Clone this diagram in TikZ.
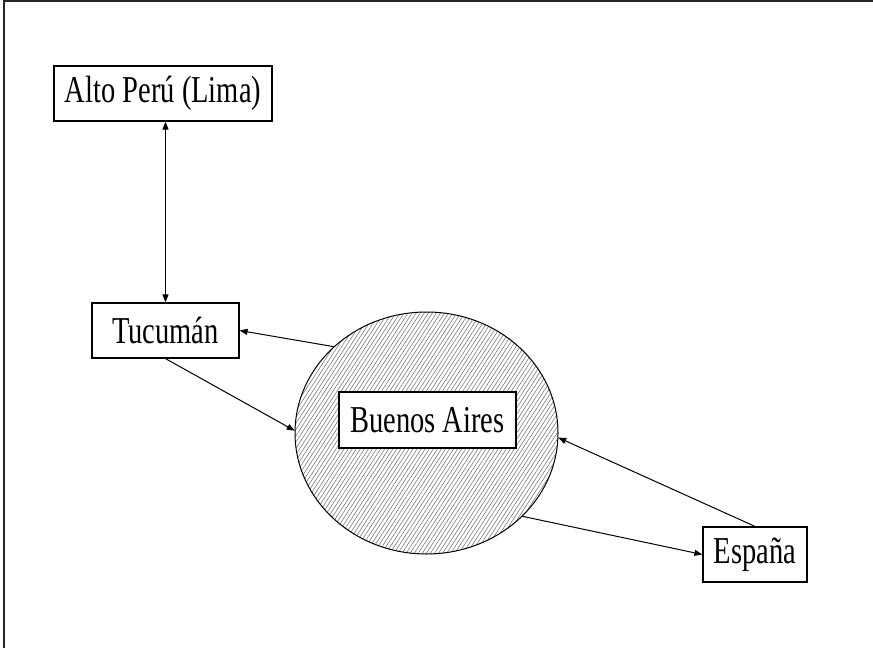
\documentclass[tikz,border=0pt]{standalone}
\usepackage{fontspec}
\setmainfont[FakeStretch=0.75]{Liberation Serif}
\usetikzlibrary{arrows.meta,shapes.geometric,patterns.meta}
\begin{document}
\begin{tikzpicture}[x=1pt,y=-1pt,
  place/.style={draw, line width=1.2pt, fill=white, inner sep=0pt,
    font=\fontsize{38}{40}\selectfont},
  link/.style={line width=1pt, -{Triangle[length=8pt,width=6pt]}},
  twoway/.style={line width=1pt, {Triangle[length=8pt,width=6pt]}-{Triangle[length=8pt,width=6pt]}}]
  \useasboundingbox (0,0) rectangle (873,648);
  % page frame (top and left edges)
  \draw[line width=2pt, black!85] (3.5,648) -- (3.5,1) -- (873,1);

  % hatched port area
  \node[ellipse, draw, line width=1pt, inner sep=0pt,
        minimum width=263pt, minimum height=242pt,
        pattern={Lines[angle=57,distance=3.4pt,line width=0.55pt]},
        pattern color=black!55] (ba) at (426.5,433) {};

  \node[place, minimum width=218pt, minimum height=55pt] (alto) at (163,93.5) {Alto Perú (Lima)};
  \node[place, minimum width=147pt, minimum height=55pt] (tuc) at (165.5,330.5) {Tucumán};
  \node[place, minimum width=177pt, minimum height=56pt] (bsas) at (427.5,420) {Buenos Aires};
  \node[place, minimum width=104pt, minimum height=55pt] (esp) at (755,554.5) {España};

  % trade routes
  \draw[twoway] (tuc.north |- alto.south) -- (tuc.north);
  \draw[link] (ba.137.7) -- (tuc.east);
  \draw[link] (tuc.south) -- (ba.179);
  \draw[link] (esp.north) -- (ba.358);
  \draw[link] (ba.-41.7) -- (esp.west);
\end{tikzpicture}
\end{document}
